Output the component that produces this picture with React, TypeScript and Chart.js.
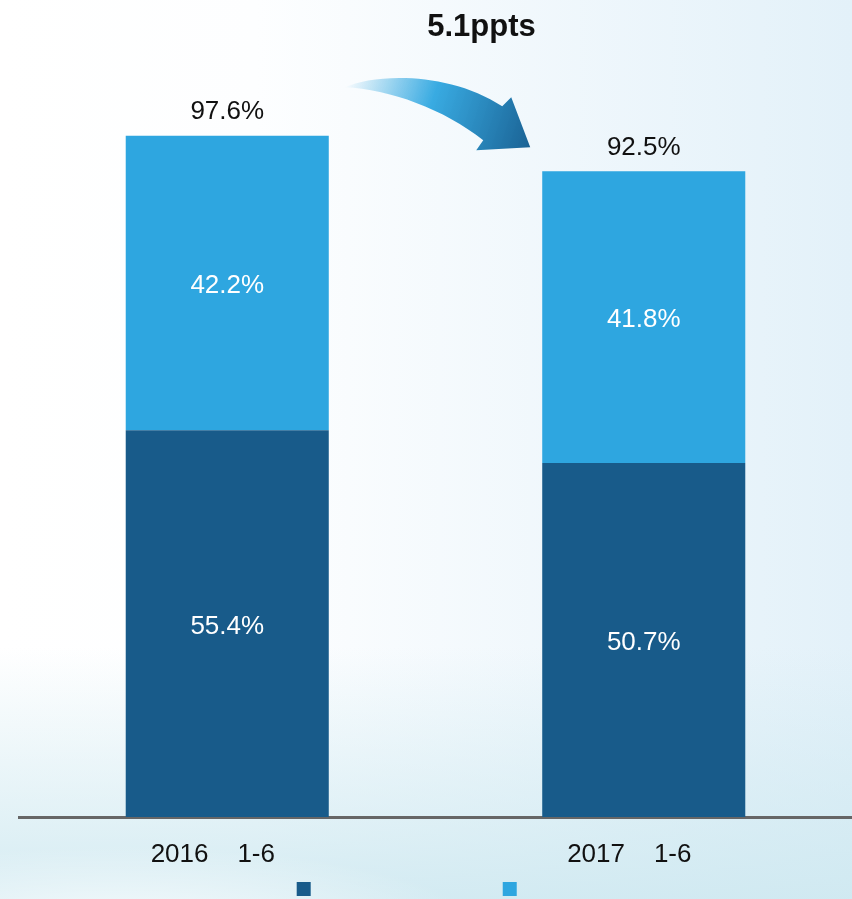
import React, { useEffect, useRef } from 'react';
import { Chart, registerables } from 'chart.js';

Chart.register(...registerables);

// ---- data ----
const categories = ['2016    1-6    ', '2017    1-6    '];
const seriesLower = [55.4, 50.7];
const seriesUpper = [42.2, 41.8];
const totals = [97.6, 92.5];
const changeLabel = '5.1ppts';
const legendSpaces = [45, 13];

const DARK = '#185b8a';
const LIGHT = '#2ea6e0';
const FONT = '"Liberation Sans", Arial, Helvetica, sans-serif';

const labelsPlugin = {
  id: 'valueLabels',
  afterDatasetsDraw(chart: any) {
    const ctx = chart.ctx;
    ctx.save();
    ctx.font = `26px ${FONT}`;
    ctx.textAlign = 'center';
    ctx.textBaseline = 'middle';
    chart.data.datasets.forEach((ds: any, di: number) => {
      const meta = chart.getDatasetMeta(di);
      meta.data.forEach((el: any, i: number) => {
        ctx.fillStyle = '#ffffff';
        ctx.fillText(ds.data[i].toFixed(1) + '%', el.x, (el.y + el.base) / 2 + 3);
      });
    });
    const topMeta = chart.getDatasetMeta(chart.data.datasets.length - 1);
    topMeta.data.forEach((el: any, i: number) => {
      ctx.fillStyle = '#111111';
      ctx.fillText(totals[i].toFixed(1) + '%', el.x, el.y - 24);
    });
    ctx.restore();
  },
  afterDraw(chart: any) {
    const ctx = chart.ctx;
    const m = chart.getDatasetMeta(chart.data.datasets.length - 1);
    const a = m.data[0];
    const b = m.data[1];
    if (!a || !b) return;
    const aRight = a.x + a.width / 2;
    const bLeft = b.x - b.width / 2;
    const sx = aRight + 16;
    const ex = bLeft - 12;
    const ey = b.y - 24;
    const sy = ey - 60;
    ctx.save();
    // curved arrow
    const g = ctx.createLinearGradient(sx, sy, ex, ey);
    g.addColorStop(0, 'rgba(46,166,224,0)');
    g.addColorStop(0.45, 'rgba(46,166,224,0.95)');
    g.addColorStop(1, '#1a6294');
    ctx.fillStyle = g;
    ctx.beginPath();
    ctx.moveTo(sx, sy);
    ctx.bezierCurveTo(sx + 30, sy - 14, sx + 105, sy - 16, ex - 28, sy + 19);
    ctx.lineTo(ex - 19, sy + 10);
    ctx.lineTo(ex, ey);
    ctx.lineTo(ex - 54, ey + 3);
    ctx.lineTo(ex - 47, sy + 53);
    ctx.bezierCurveTo(ex - 86, sy + 22, sx + 45, sy + 2, sx, sy);
    ctx.closePath();
    ctx.fill();
    // title text
    ctx.fillStyle = '#111111';
    ctx.font = `bold 31px ${FONT}`;
    ctx.textAlign = 'center';
    ctx.textBaseline = 'middle';
    ctx.fillText(changeLabel, (a.x + b.x) / 2 + 46, 27);
    ctx.restore();
  },
};

export default function App() {
  const ref = useRef<HTMLCanvasElement | null>(null);

  useEffect(() => {
    if (!ref.current) return;
    const chart = new Chart(ref.current, {
      type: 'bar',
      data: {
        labels: categories,
        datasets: [
          { data: seriesLower, backgroundColor: DARK, borderWidth: 0 },
          { data: seriesUpper, backgroundColor: LIGHT, borderWidth: 0 },
        ],
      },
      options: {
        animation: false,
        responsive: true,
        maintainAspectRatio: false,
        devicePixelRatio: 1,
        layout: { padding: { top: 119, left: 19, right: 0, bottom: -7 } },
        datasets: { bar: { categoryPercentage: 1, barPercentage: 0.4875 } },
        scales: {
          x: {
            stacked: true,
            offset: true,
            z: 1,
            grid: { display: false, drawTicks: false },
            border: { display: true, color: '#666666', width: 3 },
            ticks: {
              color: '#111111',
              font: { size: 26, family: FONT },
              padding: 22,
              maxRotation: 0,
              autoSkip: false,
            },
            afterFit: (s: any) => {
              s.height = 55;
            },
          },
          y: { stacked: true, display: false, min: 0, max: 100 },
        },
        plugins: {
          tooltip: { enabled: false },
          title: { display: false },
          legend: {
            display: true,
            position: 'bottom',
            labels: {
              boxWidth: 14,
              boxHeight: 14,
              padding: 10,
              font: { size: 14, family: FONT },
              generateLabels: (c: any) =>
                c.data.datasets.map((ds: any, i: number) => ({
                  text: ' '.repeat(legendSpaces[i]),
                  fillStyle: ds.backgroundColor,
                  strokeStyle: ds.backgroundColor,
                  lineWidth: 0,
                  hidden: false,
                  datasetIndex: i,
                })),
            },
          },
        },
      } as any,
      plugins: [labelsPlugin],
    });
    return () => chart.destroy();
  }, []);

  return (
    <div
      style={{
        position: 'fixed',
        left: 0,
        top: 0,
        width: 852,
        height: 899,
        overflow: 'hidden',
        background:
          'radial-gradient(ellipse 520px 120px at 120px 930px, rgba(255,255,255,0.85), rgba(255,255,255,0) 70%),' +
          'linear-gradient(to bottom, rgba(205,232,240,0) 72%, rgba(205,232,240,0.85) 100%),' +
          'linear-gradient(to right, #ffffff 0%, #fdfeff 30%, #e3f1f9 100%)',
      }}
    >
      <canvas ref={ref} />
    </div>
  );
}
